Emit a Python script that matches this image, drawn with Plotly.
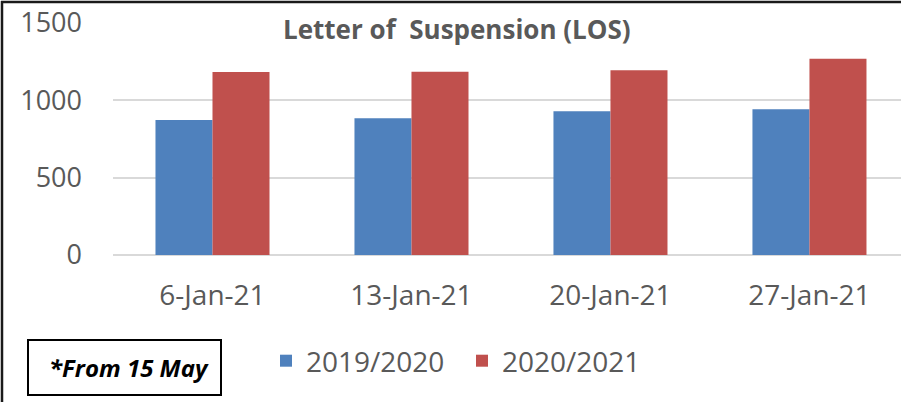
import plotly.graph_objects as go

# chart data
weeks = ['6-Jan-21', '13-Jan-21', '20-Jan-21', '27-Jan-21']
los_2019_2020 = [873, 884, 929, 942]
los_2020_2021 = [1183, 1185, 1194, 1269]
y_ticks = [0, 500, 1000, 1500]

W, H = 901, 402
L, R, T, B = 113, 0, 23, 147
PW, PH = W - L - R, H - T - B

FONT = 'Open Sans'
GREY = '#595959'


def px(x):
    # pixel x -> paper coordinate
    return (x - L) / PW


def py(y):
    # pixel y -> paper coordinate
    return (H - B - y) / PH


fig = go.Figure()

fig.add_trace(go.Bar(
    x=weeks, y=los_2019_2020, name='2019/2020',
    marker_color='#4f81bd', marker_line_width=0,
))
fig.add_trace(go.Bar(
    x=weeks, y=los_2020_2021, name='2020/2021',
    marker_color='#c0504d', marker_line_width=0,
))

fig.update_layout(
    width=W, height=H,
    margin=dict(l=L, r=R, t=T, b=B),
    plot_bgcolor='white',
    paper_bgcolor='white',
    font=dict(family=FONT, color=GREY, size=28),
    barmode='group',
    bargap=0.427,
    bargroupgap=0,
    xaxis=dict(
        range=[-0.5, 3.46],
        showgrid=False,
        showline=False,
        ticks='',
        ticklabelstandoff=21,
        tickfont=dict(size=28, color=GREY),
    ),
    yaxis=dict(
        range=[0, 1500],
        tickvals=y_ticks,
        showgrid=True,
        gridcolor='#d9d9d9',
        gridwidth=1.5,
        zeroline=True,
        zerolinecolor='#d9d9d9',
        zerolinewidth=1.5,
        ticks='',
        ticklabelstandoff=30,
        tickfont=dict(size=27, color=GREY),
    ),
    legend=dict(
        orientation='h',
        x=px(266), y=py(361),
        xanchor='left', yanchor='middle',
        font=dict(size=28, color=GREY),
        itemwidth=30,
        entrywidth=151,
        entrywidthmode='pixels',
        bgcolor='rgba(0,0,0,0)',
    ),
    showlegend=True,
)

# title
fig.add_annotation(
    text='<b>Letter of  Suspension (LOS)</b>',
    xref='paper', yref='paper',
    x=px(457), y=py(29), xanchor='center', yanchor='middle',
    showarrow=False,
    font=dict(size=26, color=GREY, family=FONT),
)

# footnote box
fig.add_shape(
    type='rect', xref='paper', yref='paper',
    x0=px(28), x1=px(221), y0=py(340), y1=py(395),
    line=dict(color='black', width=2), fillcolor='white',
)
fig.add_annotation(
    text='<b><i>*From 15 May</i></b>',
    xref='paper', yref='paper',
    x=px(129), y=py(367), xanchor='center', yanchor='middle',
    showarrow=False,
    font=dict(size=24, color='black', family=FONT),
)

# outer frame (left and top edges visible)
fig.add_shape(type='line', xref='paper', yref='paper',
              x0=px(2), x1=px(2), y0=py(1), y1=py(H + 5),
              line=dict(color='#1a1a1a', width=2.5))
fig.add_shape(type='line', xref='paper', yref='paper',
              x0=px(1), x1=px(W + 5), y0=py(2), y1=py(2),
              line=dict(color='#1a1a1a', width=2.5))

fig.write_html('out.html', config={'displayModeBar': False},
               post_script="document.body.style.margin='0';")
